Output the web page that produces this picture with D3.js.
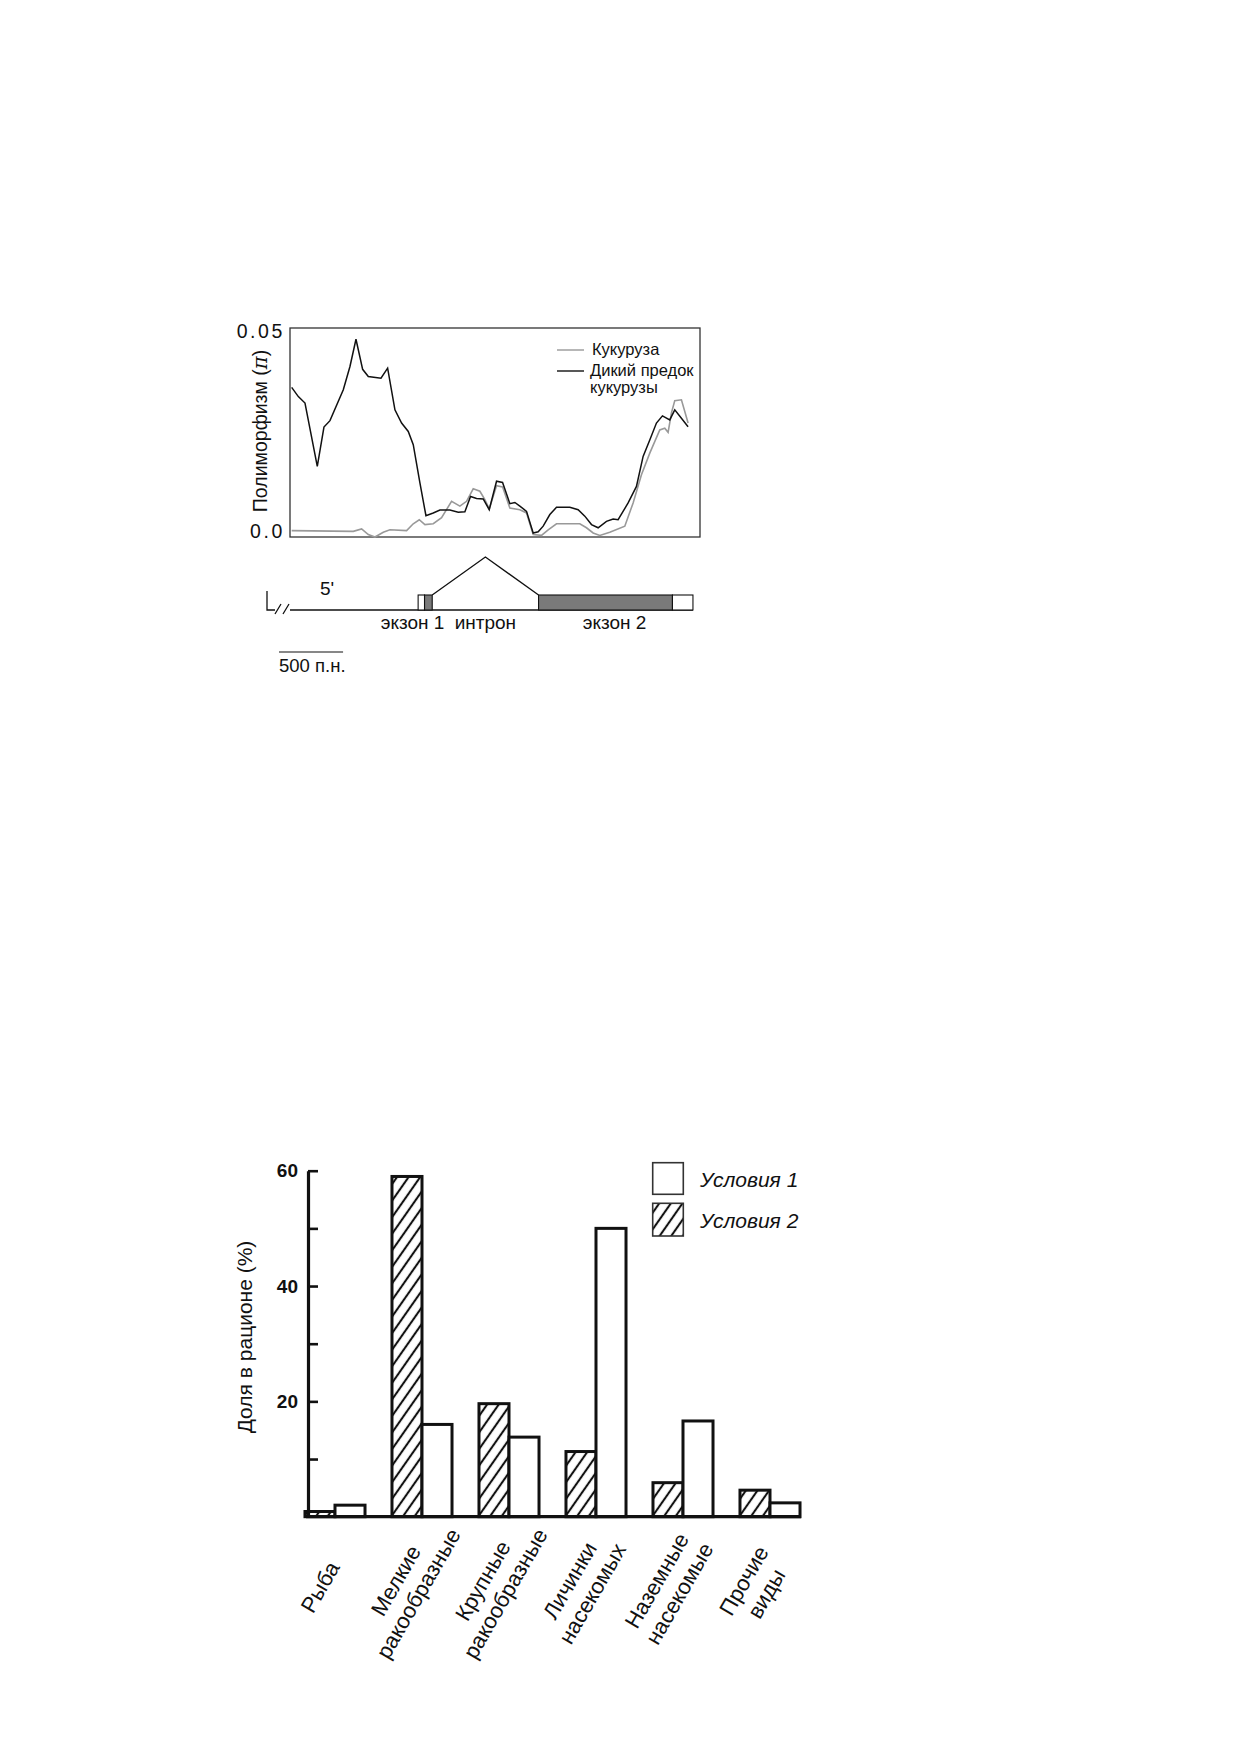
<!DOCTYPE html>
<html>
<head>
<meta charset="utf-8">
<script src="https://cdn.jsdelivr.net/npm/d3@7"></script>
<style>
  body { margin: 0; background: #fff; }
  text { font-family: "Liberation Sans", Arial, sans-serif; fill: #111; }
</style>
</head>
<body>
<svg id="fig" width="1240" height="1754"></svg>
<script>
// --- top chart: nucleotide polymorphism along the gene (bp positions) ---
const wildPos = [13, 65, 117, 213, 265, 312, 416, 468, 515, 567, 611, 710, 762, 819, 871, 923, 962,
    1014, 1061, 1118, 1170, 1248, 1313, 1365, 1409, 1456, 1508, 1555, 1612, 1659, 1716, 1755, 1794,
    1846, 1898, 1937, 1976, 2028, 2080, 2184, 2249, 2301, 2353, 2405, 2470, 2522, 2561, 2639, 2704,
    2756, 2808, 2860, 2907, 2964, 3003, 3055, 3107];
const wildPi = [0.0357, 0.0334, 0.0318, 0.0160, 0.0258, 0.0274, 0.0351, 0.0409, 0.0477, 0.0402, 0.0384,
    0.0380, 0.0405, 0.0301, 0.0268, 0.0247, 0.0214, 0.0119, 0.0037, 0.0044, 0.0051, 0.0051, 0.0046,
    0.0047, 0.0085, 0.0080, 0.0079, 0.0052, 0.0123, 0.0120, 0.0067, 0.0070, 0.0061, 0.0048, -0.0006,
    -0.0003, 0.0011, 0.0040, 0.0058, 0.0058, 0.0052, 0.0036, 0.0015, 0.0007, 0.0023, 0.0029, 0.0027,
    0.0069, 0.0110, 0.0185, 0.0226, 0.0268, 0.0286, 0.0276, 0.0301, 0.0280, 0.0259];
const maizePos = [13, 494, 559, 611, 663, 728, 780, 910, 962, 1009, 1053, 1118, 1183, 1261, 1326, 1378,
    1430, 1482, 1521, 1555, 1612, 1659, 1716, 1794, 1846, 1898, 1963, 2015, 2080, 2262, 2314, 2366,
    2418, 2496, 2613, 2678, 2743, 2808, 2886, 2925, 2951, 2977, 3003, 3055, 3107];
const maizePi = [0.0000, -0.0002, 0.0004, -0.0010, -0.0016, -0.0004, 0.0002, 0.0000, 0.0017, 0.0027,
    0.0015, 0.0017, 0.0032, 0.0073, 0.0061, 0.0073, 0.0104, 0.0098, 0.0077, 0.0054, 0.0112, 0.0109,
    0.0056, 0.0052, 0.0044, -0.0010, -0.0012, 0.0002, 0.0017, 0.0017, 0.0007, -0.0006, -0.0012,
    -0.0004, 0.0011, 0.0069, 0.0139, 0.0193, 0.0251, 0.0255, 0.0245, 0.0293, 0.0324, 0.0326, 0.0268];
const piTicks = [0, 0.05];
const piTickLabels = ['0.0', '0.05'];
const legendTop = ['Кукуруза', 'Дикий предок', 'кукурузы'];

// gene structure, bp
const exon1 = [1000, 1050, 1110];   // 5' UTR start, coding start, end
const exon2 = [1940, 2985, 3145];   // start, coding end, 3' UTR end
const scaleBarBp = 500;

// --- bottom chart: diet composition ---
const dietCats = [['Рыба'], ['Мелкие', 'ракообразные'], ['Крупные', 'ракообразные'],
    ['Личинки', 'насекомых'], ['Наземные', 'насекомые'], ['Прочие', 'виды']];
const cond1 = [2, 16, 13.8, 50, 16.6, 2.4];
const cond2 = [0.9, 59, 19.6, 11.3, 5.9, 4.6];
const dietTicks = [10, 20, 30, 40, 50, 60];
const legendBottom = ['Условия 1', 'Условия 2'];

const svg = d3.select('#fig');

const defs = svg.append('defs');
const hatch = defs.append('pattern')
    .attr('id', 'hatch')
    .attr('patternUnits', 'userSpaceOnUse')
    .attr('width', 9.5)
    .attr('height', 9.5)
    .attr('patternTransform', 'rotate(35)');
hatch.append('rect').attr('width', 9.5).attr('height', 9.5).attr('fill', '#fff');
hatch.append('line')
    .attr('x1', 4.75).attr('y1', 0).attr('x2', 4.75).attr('y2', 9.5)
    .attr('stroke', '#111').attr('stroke-width', 2.1);

// ================= top chart =================
const x = d3.scaleLinear().domain([0, 3200]).range([290, 700]);
const y = d3.scaleLinear().domain([-0.0016, 0.0505]).range([537, 328]);

svg.append('rect')
    .attr('x', x(0)).attr('y', y(0.0505))
    .attr('width', x(3200) - x(0)).attr('height', y(-0.0016) - y(0.0505))
    .attr('fill', 'none').attr('stroke', '#333').attr('stroke-width', 1.3);

const piLine = pos => d3.line().x((d, i) => x(pos[i])).y(d => y(d));

svg.append('path')
    .attr('d', piLine(maizePos)(maizePi))
    .attr('fill', 'none').attr('stroke', '#999').attr('stroke-width', 1.6);

svg.append('path')
    .attr('d', piLine(wildPos)(wildPi))
    .attr('fill', 'none').attr('stroke', '#111').attr('stroke-width', 1.5);

const yAxisTop = d3.axisLeft(y)
    .tickValues(piTicks)
    .tickFormat((d, i) => piTickLabels[i])
    .tickSize(0)
    .tickPadding(5);

svg.append('g')
    .attr('transform', `translate(${x(0)}, 0)`)
    .call(yAxisTop)
    .call(g => g.select('.domain').remove())
    .selectAll('text')
    .attr('font-size', 19.5)
    .attr('letter-spacing', '2.6px')
    .attr('fill', '#111')
    .attr('dy', '0.36em');

const yLabTop = svg.append('text')
    .attr('transform', 'translate(260, 431) rotate(-90)')
    .attr('text-anchor', 'middle')
    .attr('dy', '0.35em')
    .attr('font-size', 19.5);
yLabTop.append('tspan').text('Полиморфизм (');
yLabTop.append('tspan').text('π').attr('font-family', '"DejaVu Serif", serif').attr('font-style', 'italic');
yLabTop.append('tspan').text(')');

// legend
svg.append('line').attr('x1', 557).attr('x2', 584).attr('y1', 350).attr('y2', 350)
    .attr('stroke', '#999').attr('stroke-width', 1.4);
svg.append('line').attr('x1', 557).attr('x2', 584).attr('y1', 371).attr('y2', 371)
    .attr('stroke', '#111').attr('stroke-width', 1.4);
svg.append('text').attr('x', 592).attr('y', 349).attr('dy', '0.35em').attr('font-size', 16.5).text(legendTop[0]);
svg.append('text').attr('x', 590).attr('y', 370).attr('dy', '0.35em').attr('font-size', 16.5).text(legendTop[1]);
svg.append('text').attr('x', 590).attr('y', 387).attr('dy', '0.35em').attr('font-size', 16.5).text(legendTop[2]);

// gene diagram
const gy = 610, boxTop = 595, apexY = 557;
const x0 = x(0);

svg.append('path')
    .attr('d', `M${x0 - 23},591V${gy}H${x0 - 15}M${x0 - 15},614L${x0 - 9},604M${x0 - 7},614L${x0 - 1},604`)
    .attr('fill', 'none').attr('stroke', '#111').attr('stroke-width', 1.3);

svg.append('line')
    .attr('x1', x0).attr('x2', x(exon2[2])).attr('y1', gy).attr('y2', gy)
    .attr('stroke', '#111').attr('stroke-width', 1.4);

const geneBoxes = [
    [exon1[0], exon1[1], '#fff'],
    [exon1[1], exon1[2], '#7a7a7a'],
    [exon2[0], exon2[1], '#7a7a7a'],
    [exon2[1], exon2[2], '#fff']
];
svg.selectAll('rect.exon')
    .data(geneBoxes)
    .join('rect')
    .attr('class', 'exon')
    .attr('x', d => x(d[0]))
    .attr('y', boxTop)
    .attr('width', d => x(d[1]) - x(d[0]))
    .attr('height', gy - boxTop)
    .attr('fill', d => d[2])
    .attr('stroke', '#111')
    .attr('stroke-width', 1.1);

svg.append('path')
    .attr('d', `M${x(exon1[2])},${boxTop}L${x((exon1[2] + exon2[0]) / 2)},${apexY}L${x(exon2[0])},${boxTop}`)
    .attr('fill', 'none').attr('stroke', '#111').attr('stroke-width', 1.3);

svg.append('text').attr('x', 320).attr('y', 595).attr('font-size', 19).text("5'");
svg.append('text').attr('x', x(exon1[0]) - 5.5).attr('y', 629).attr('text-anchor', 'middle')
    .attr('font-size', 19).text('экзон 1');
svg.append('text').attr('x', x((exon1[2] + exon2[0]) / 2)).attr('y', 629).attr('text-anchor', 'middle')
    .attr('font-size', 19).text('интрон');
svg.append('text').attr('x', x((exon2[0] + exon2[1]) / 2) + 9).attr('y', 629).attr('text-anchor', 'middle')
    .attr('font-size', 19).text('экзон 2');

svg.append('line')
    .attr('x1', 279).attr('x2', 279 + x(scaleBarBp) - x(0))
    .attr('y1', 652).attr('y2', 652)
    .attr('stroke', '#111').attr('stroke-width', 1.2);
svg.append('text').attr('x', 279).attr('y', 671.5).attr('font-size', 18.5).text('500 п.н.');

// ================= bottom chart =================
const catKeys = dietCats.map(c => c.join(' '));
const xb = d3.scaleBand().domain(catKeys).range([291.5, 813.5]).paddingInner(0.31).paddingOuter(0.155);
const xs = d3.scaleBand().domain(['c2', 'c1']).range([0, xb.bandwidth()]);
const yb = d3.scaleLinear().domain([0, 60]).range([1516.7, 1170.7]);

const groups = svg.selectAll('g.grp')
    .data(catKeys)
    .join('g')
    .attr('class', 'grp')
    .attr('transform', d => `translate(${xb(d)}, 0)`);

groups.append('rect')
    .attr('x', xs('c2'))
    .attr('y', (d, i) => yb(cond2[i]))
    .attr('width', xs.bandwidth())
    .attr('height', (d, i) => yb(0) - yb(cond2[i]))
    .attr('fill', 'url(#hatch)')
    .attr('stroke', '#111').attr('stroke-width', 3);

groups.append('rect')
    .attr('x', xs('c1'))
    .attr('y', (d, i) => yb(cond1[i]))
    .attr('width', xs.bandwidth())
    .attr('height', (d, i) => yb(0) - yb(cond1[i]))
    .attr('fill', '#fff')
    .attr('stroke', '#111').attr('stroke-width', 3);

svg.append('line')
    .attr('x1', 306).attr('x2', 801).attr('y1', yb(0)).attr('y2', yb(0))
    .attr('stroke', '#111').attr('stroke-width', 3.2);

const yAxisBottom = d3.axisLeft(yb)
    .tickValues(dietTicks)
    .tickSizeInner(-10)
    .tickSizeOuter(0)
    .tickPadding(10)
    .tickFormat(d => d % 20 === 0 ? d : '');

svg.append('g')
    .attr('transform', 'translate(308, 0)')
    .call(yAxisBottom)
    .call(g => g.select('.domain').attr('stroke', '#111').attr('stroke-width', 3.2))
    .call(g => g.selectAll('.tick line').attr('stroke', '#111').attr('stroke-width', 2.6))
    .selectAll('text')
    .attr('font-size', 19)
    .attr('font-weight', 'bold')
    .attr('fill', '#111')
    .attr('font-family', '"Liberation Sans Narrow", "Liberation Sans", Arial, sans-serif');

svg.append('text')
    .attr('transform', 'translate(245, 1337) rotate(-90)')
    .attr('text-anchor', 'middle')
    .attr('dy', '0.35em')
    .attr('font-size', 21)
    .text('Доля в рационе (%)');

// category labels
const labels = svg.selectAll('g.lab')
    .data(dietCats)
    .join('g')
    .attr('class', 'lab')
    .attr('transform', (d, i) => `translate(${xb(catKeys[i]) + xb.bandwidth() / 2 - 15}, 1587) rotate(-60)`);

labels.each(function (lines) {
    const g = d3.select(this);
    lines.forEach((t, k) => {
        g.append('text')
            .attr('text-anchor', 'middle')
            .attr('y', (k - (lines.length - 1) / 2) * 26)
            .attr('dy', '0.35em')
            .attr('font-size', 22)
            .text(t);
    });
});

// legend
svg.append('rect').attr('x', 652.7).attr('y', 1162.7).attr('width', 30.6).attr('height', 31.6)
    .attr('fill', '#fff').attr('stroke', '#333').attr('stroke-width', 1.6);
svg.append('rect').attr('x', 652.7).attr('y', 1203.3).attr('width', 30.6).attr('height', 32.7)
    .attr('fill', 'url(#hatch)').attr('stroke', '#333').attr('stroke-width', 1.6);
svg.append('text').attr('x', 700).attr('y', 1180).attr('dy', '0.35em')
    .attr('font-size', 21).attr('font-style', 'italic').text(legendBottom[0]);
svg.append('text').attr('x', 700).attr('y', 1221).attr('dy', '0.35em')
    .attr('font-size', 21).attr('font-style', 'italic').text(legendBottom[1]);
</script>
</body>
</html>
